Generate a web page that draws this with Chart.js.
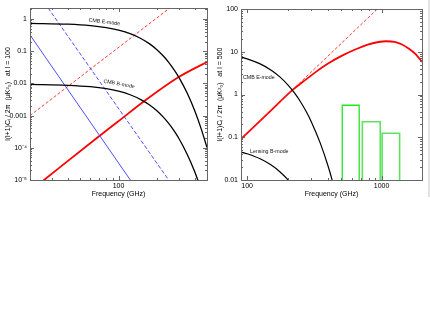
<!DOCTYPE html>
<html>
<head>
<meta charset="utf-8">
<script src="https://cdn.jsdelivr.net/npm/chart.js@4.4.1/dist/chart.umd.min.js"></script>
<style>
body { margin: 0; background: #fff; }
#wrap { position: relative; width: 430px; height: 332px; }
.panel { position: absolute; top: 0; width: 215px; height: 332px; }
#edge { position: absolute; left: 428px; top: 0; width: 2px; height: 197px; background: #e2e2e2; }
</style>
</head>
<body>
<div id="wrap">
  <div class="panel" style="left:0"><canvas id="chartL100" width="215" height="332"></canvas></div>
  <div class="panel" style="left:215px"><canvas id="chartL500" width="215" height="332"></canvas></div>
  <div id="edge"></div>
</div>
<script>
// left panel, l = 100
const freqCmbL = [20, 40, 60, 80, 100, 125, 150, 175, 200, 225, 250, 275, 300, 350, 400, 450, 500]
const eModeL = [0.735, 0.691, 0.624, 0.542, 0.453, 0.345, 0.249, 0.172, 0.1135, 0.0722, 0.0444, 0.0264, 0.0154, 0.00484, 0.00141, 0.000387, 0.000102]
const bModeL = [0.0093, 0.00875, 0.0079, 0.00686, 0.00574, 0.00437, 0.00315, 0.00218, 0.00144, 0.00091, 0.00056, 0.000335, 0.000195, 0.000061, 0.000018, 0.0000049, 0.0000013]
const dustFreqL = [20, 25.8, 64.4, 98, 164, 299, 499]
const dustL = [0.0000045, 0.00001, 0.000175, 0.00063, 0.00305, 0.0158, 0.0462]
const dustLawFreqL = [20, 254]
const dustLawL = [0.001, 2.2]
const syncFreqL = [20, 124]
const syncL = [0.32, 0.00001]
const sync2FreqL = [27.8, 249]
const sync2L = [2.2, 0.00001]
const xTicksL = [100]
const xTickLabelsL = ["100"]
const yTicksL = [0.00001, 0.0001, 0.001, 0.01, 0.1, 1]
const yTickLabelsL = ["10\u207B\u2075", "10\u207B\u2074", "0.001", "0.01", "0.1", "1"]

// right panel, l = 500
const freqCmbR = [90, 100, 125, 150, 175, 200, 225, 250, 275, 300, 350, 400, 450]
const eModeR = [7.5, 6.83, 5.2, 3.75, 2.59, 1.71, 1.09, 0.669, 0.399, 0.232, 0.0729, 0.0212, 0.00583]
const lensFreqR = [90, 100, 125, 150, 175, 200, 225, 250]
const lensR = [0.045, 0.041, 0.0313, 0.0226, 0.0156, 0.0103, 0.0065, 0.004]
const dustFreqR = [90, 150, 219, 260, 319, 400, 500, 650, 800, 950, 1080, 1250, 1420, 1600, 1800, 2000]
const dustR = [0.091, 0.42, 1.3, 1.98, 3.25, 5.3, 7.9, 11.6, 14.8, 16.9, 17.6, 17.1, 14.8, 11.8, 8.7, 5.8]
const dustLawFreqR = [90, 1000]
const dustLawR = [0.091, 124]
const bandLo = [510, 720, 1010]
const bandHi = [682, 978, 1363]
const bandTop = [0.56, 0.23, 0.124]
const xTicksR = [100, 1000]
const xTickLabelsR = ["100", "1000"]
const yTicksR = [0.01, 0.1, 1, 10, 100]
const yTickLabelsR = ["0.01", "0.1", "1", "10", "100"]

const fontName = "'Liberation Sans', Arial, sans-serif"

function pts(xs, ys) {
    return xs.map((x, i) => ({ x: x, y: ys[i] }))
}

function curve(xs, ys, color, width, dash) {
    return {
        data: pts(xs, ys),
        borderColor: color,
        borderWidth: width,
        borderDash: dash || [],
        pointRadius: 0,
        fill: false,
        cubicInterpolationMode: "monotone"
    }
}

// inward tick marks on all four sides plus the gray frame
const frameTicks = {
    id: "frameTicks",
    afterDraw(chart) {
        const { ctx, chartArea: a, scales } = chart
        ctx.save()
        ctx.strokeStyle = "#666"
        ctx.lineWidth = 1
        ctx.strokeRect(Math.round(a.left) + 0.5, Math.round(a.top) + 0.5, Math.round(a.right - a.left), Math.round(a.bottom - a.top))
        const logMarks = (min, max) => {
            const out = []
            for (let k = Math.floor(Math.log10(min)); k <= Math.ceil(Math.log10(max)); k++) {
                for (let m = 1; m <= 9; m++) {
                    const v = m * Math.pow(10, k)
                    if (v >= min * 0.999 && v <= max * 1.001) out.push({ v: v, major: m == 1 })
                }
            }
            return out
        }
        ctx.beginPath()
        logMarks(scales.x.min, scales.x.max).forEach(t => {
            const px = Math.round(scales.x.getPixelForValue(t.v)) + 0.5
            const len = t.major ? 4 : 2
            ctx.moveTo(px, a.bottom); ctx.lineTo(px, a.bottom - len)
            ctx.moveTo(px, a.top); ctx.lineTo(px, a.top + len)
        })
        logMarks(scales.y.min, scales.y.max).forEach(t => {
            const py = Math.round(scales.y.getPixelForValue(t.v)) + 0.5
            const len = t.major ? 4 : 2
            ctx.moveTo(a.left, py); ctx.lineTo(a.left + len, py)
            ctx.moveTo(a.right, py); ctx.lineTo(a.right - len, py)
        })
        ctx.stroke()
        ctx.restore()
    }
}

// small text labels next to the curves
const curveLabels = {
    id: "curveLabels",
    afterDatasetsDraw(chart, args, opts) {
        const { ctx, scales } = chart
        ctx.save()
        ctx.fillStyle = "#111"
        ctx.font = "5.3px " + fontName
        ctx.textBaseline = "middle";
        (opts.items || []).forEach(item => {
            ctx.save()
            ctx.translate(scales.x.getPixelForValue(item.x), scales.y.getPixelForValue(item.y))
            ctx.rotate(item.rot * Math.PI / 180)
            ctx.textAlign = item.align
            ctx.fillText(item.text, 0, 0)
            ctx.restore()
        })
        ctx.restore()
    }
}

function makeOptions(cfg) {
    return {
        responsive: false,
        animation: false,
        events: [],
        layout: { padding: { left: 0, top: cfg.top, right: 8, bottom: 122 } },
        plugins: {
            legend: { display: false },
            tooltip: { enabled: false },
            curveLabels: { items: cfg.labels }
        },
        scales: {
            x: {
                type: "logarithmic",
                min: cfg.xmin,
                max: cfg.xmax,
                grid: { display: false, drawTicks: false },
                border: { display: false },
                afterFit: s => { s.height = 30 },
                afterBuildTicks: s => { s.ticks = cfg.xTicks.map(v => ({ value: v })) },
                ticks: {
                    autoSkip: false, maxRotation: 0, padding: 2, color: "#000",
                    font: { family: fontName, size: 7 },
                    callback: (v, i) => cfg.xLabels[i]
                },
                title: {
                    display: true, text: "Frequency (GHz)", color: "#000",
                    padding: { top: 0, bottom: 12 },
                    font: { family: fontName, size: 7 }
                }
            },
            y: {
                type: "logarithmic",
                min: cfg.ymin,
                max: cfg.ymax,
                grid: { display: false, drawTicks: false },
                border: { display: false },
                afterFit: s => { s.width = cfg.yWidth },
                afterBuildTicks: s => { s.ticks = cfg.yTicks.map(v => ({ value: v })) },
                ticks: {
                    autoSkip: false, padding: 3, color: "#000",
                    font: { family: fontName, size: 7 },
                    callback: (v, i) => cfg.yLabels[i]
                },
                title: {
                    display: true, text: cfg.yTitle, color: "#000",
                    padding: { top: cfg.titlePad, bottom: 0 },
                    font: { family: fontName, size: 7 }
                }
            }
        }
    }
}

new Chart(document.getElementById("chartL100"), {
    type: "line",
    data: {
        datasets: [
            curve(freqCmbL, eModeL, "#000", 1.3),
            curve(freqCmbL, bModeL, "#000", 1.3),
            curve(syncFreqL, syncL, "#3a3aff", 0.9),
            curve(sync2FreqL, sync2L, "#3a3aff", 0.9, [4, 2]),
            curve(dustLawFreqL, dustLawL, "#ff2020", 0.9, [3, 2]),
            curve(dustFreqL, dustL, "#ff0000", 1.8)
        ]
    },
    options: makeOptions({
        top: 8, xmin: 20, xmax: 500, ymin: 0.00001, ymax: 2.2, yWidth: 30, titlePad: 4,
        xTicks: xTicksL, xLabels: xTickLabelsL, yTicks: yTicksL, yLabels: yTickLabelsL,
        yTitle: "l(l+1)C\u2097 / 2\u03C0  (\u03BCK\u00B2\u2080)   at l = 100",
        labels: [
            { text: "CMB E-mode", x: 77.3, y: 0.81, rot: 7, align: "center" },
            { text: "CMB B-mode", x: 101, y: 0.0096, rot: 10, align: "center" }
        ]
    }),
    plugins: [frameTicks, curveLabels]
})

const bandSets = bandLo.map((lo, i) => ({
    data: pts([lo, lo, bandHi[i], bandHi[i]], [0.01, bandTop[i], bandTop[i], 0.01]),
    borderColor: i == 0 ? "#22e622" : "#5fe25f",
    borderWidth: i == 0 ? 1.3 : 1.6,
    pointRadius: 0,
    fill: false,
    tension: 0
}))

new Chart(document.getElementById("chartL500"), {
    type: "line",
    data: {
        datasets: [
            curve(freqCmbR, eModeR, "#000", 1.2),
            curve(lensFreqR, lensR, "#000", 1.2),
            curve(dustLawFreqR, dustLawR, "#ff2020", 0.9, [3, 2]),
            curve(dustFreqR, dustR, "#ff0000", 1.8)
        ].concat(bandSets)
    },
    options: makeOptions({
        top: 9, xmin: 90, xmax: 2000, ymin: 0.01, ymax: 100, yWidth: 26, titlePad: 1,
        xTicks: xTicksR, xLabels: xTickLabelsR, yTicks: yTicksR, yLabels: yTickLabelsR,
        yTitle: "l(l+1)C\u2097 / 2\u03C0  (\u03BCK\u00B2\u2080)   at l = 500",
        labels: [
            { text: "CMB E-mode", x: 93, y: 2.55, rot: 0, align: "left" },
            { text: "Lensing B-mode", x: 105, y: 0.0464, rot: 0, align: "left" }
        ]
    }),
    plugins: [frameTicks, curveLabels]
})
</script>
</body>
</html>
